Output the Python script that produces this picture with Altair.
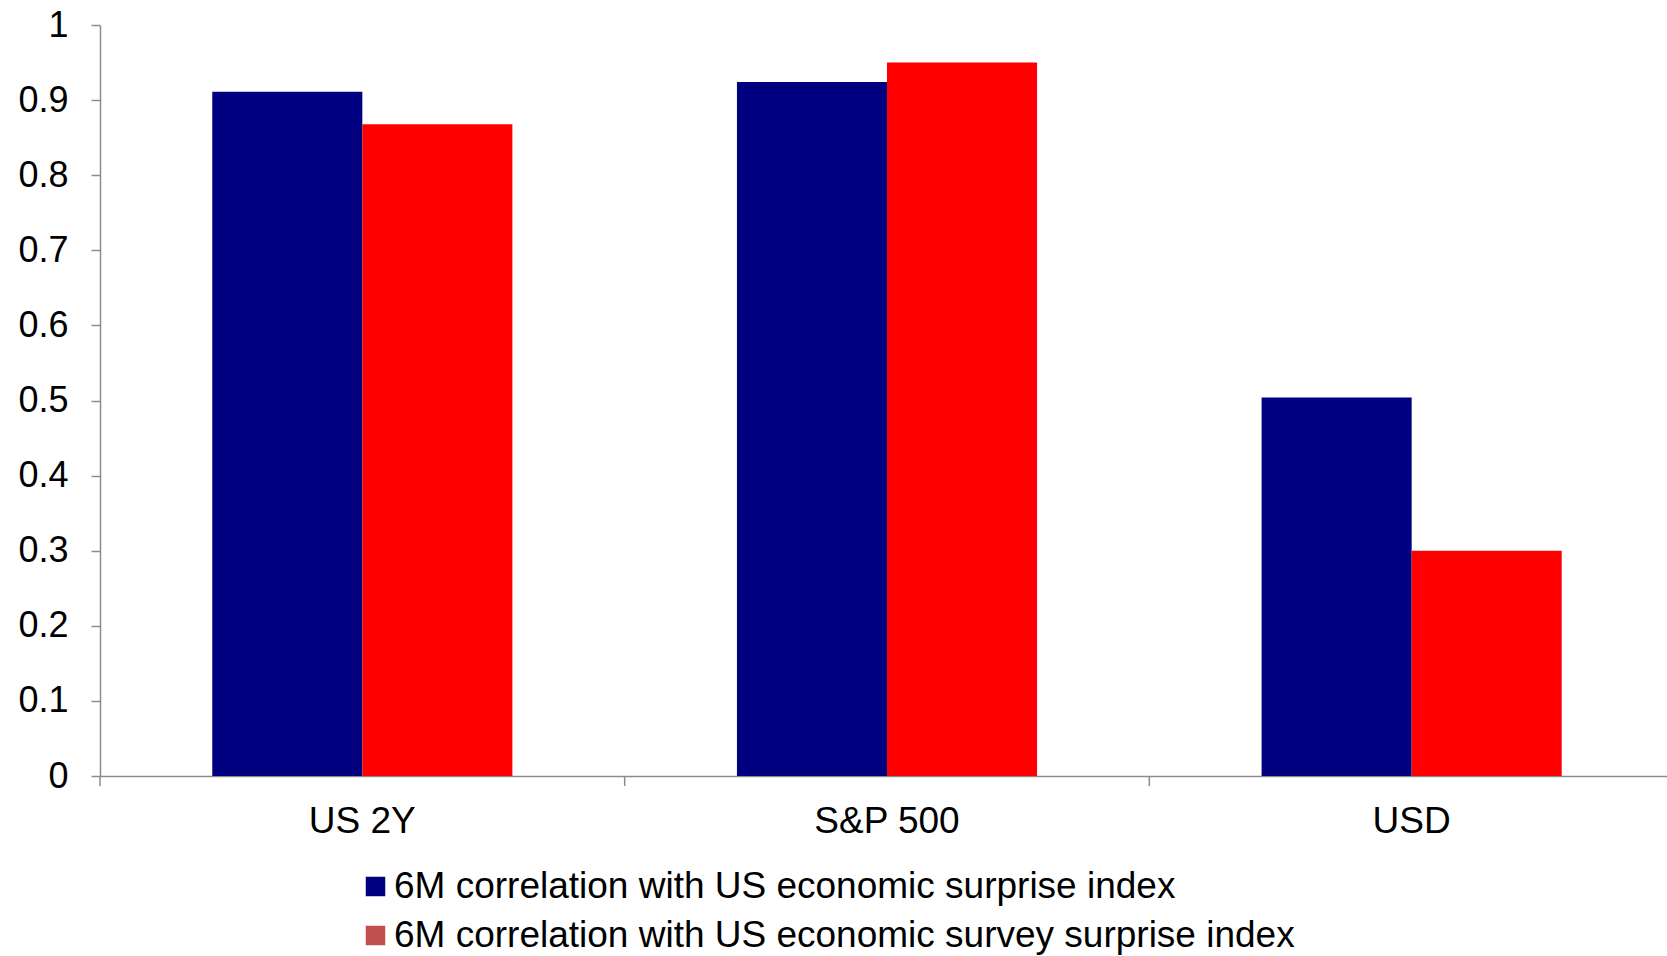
import altair as alt
import pandas as pd

categories = ["US 2Y", "S&P 500", "USD"]
series_names = [
    "6M correlation with US economic surprise index",
    "6M correlation with US economic survey surprise index",
]
surprise_values = [0.911, 0.924, 0.504]
survey_values = [0.868, 0.950, 0.300]
y_ticks = [0, 0.1, 0.2, 0.3, 0.4, 0.5, 0.6, 0.7, 0.8, 0.9, 1]
category_boundaries = [0, 1, 2, 3]

bar_colors = ["#000080", "#FF0000"]
legend_colors = ["#000080", "#C0504D"]

rows = []
for c, a, b in zip(categories, surprise_values, survey_values):
    rows.append({"category": c, "series": series_names[0], "value": a})
    rows.append({"category": c, "series": series_names[1], "value": b})
df = pd.DataFrame(rows)
tick_df = pd.DataFrame({"boundary": category_boundaries})

W, H = 1567, 751
X_RANGE = 1574
FONT = "Liberation Sans"
GREY = "#8c8c8c"

xscale = alt.Scale(domain=categories, paddingInner=0.428, paddingOuter=0.214, range=[0, X_RANGE])
x_axis = alt.Axis(
    ticks=False,
    tickSize=0,
    labelPadding=27,
    labelAngle=0,
    labelFontSize=37,
    labelColor="black",
    labelFont=FONT,
    domainColor=GREY,
    domainWidth=1.5,
)

bars = alt.Chart(df).mark_bar().encode(
    x=alt.X("category:N", scale=xscale, sort=categories, title=None, axis=x_axis),
    xOffset=alt.XOffset(
        "series:N", sort=series_names, scale=alt.Scale(paddingInner=0, paddingOuter=0)
    ),
    y=alt.Y(
        "value:Q",
        scale=alt.Scale(domain=[0, 1], nice=False),
        title=None,
        axis=alt.Axis(
            values=y_ticks,
            format="~g",
            grid=False,
            tickSize=9,
            tickColor=GREY,
            tickWidth=1.5,
            domainColor=GREY,
            domainWidth=1.5,
            labelPadding=23,
            labelFontSize=36,
            labelColor="black",
            labelFont=FONT,
        ),
    ),
    color=alt.Color(
        "series:N",
        scale=alt.Scale(domain=series_names, range=bar_colors),
        legend=None,
    ),
)

legend_layer = alt.Chart(df).mark_bar().encode(
    x=alt.value(0),
    x2=alt.value(1),
    y=alt.value(H),
    y2=alt.value(H),
    color=alt.Color(
        "series:N",
        scale=alt.Scale(domain=series_names, range=legend_colors),
        legend=alt.Legend(
            title=None,
            orient="none",
            legendX=257,
            legendY=843,
            direction="vertical",
            symbolType="square",
            symbolSize=380,
            symbolStrokeWidth=0,
            labelFontSize=37,
            labelFont=FONT,
            labelColor="black",
            labelLimit=0,
            labelOffset=0,
            rowPadding=11,
            padding=0,
        ),
    ),
)

ticks = alt.Chart(tick_df).mark_rule(color=GREY, strokeWidth=1.5).encode(
    x=alt.X(
        "boundary:Q",
        scale=alt.Scale(domain=[0, len(categories)], range=[0, X_RANGE], nice=False, zero=False),
        axis=None,
        title=None,
    ),
    y=alt.value(H),
    y2=alt.value(H + 10),
)

chart = (
    alt.layer(bars, ticks, legend_layer)
    .resolve_scale(color="independent", x="independent")
    .properties(
        width=W,
        height=H,
        padding={"left": 100, "top": 25, "right": 0, "bottom": 180},
        autosize=alt.AutoSizeParams(type="none"),
    )
    .configure_view(stroke=None)
)

chart.save("out.html", embed_options={"renderer": "svg", "actions": False})
